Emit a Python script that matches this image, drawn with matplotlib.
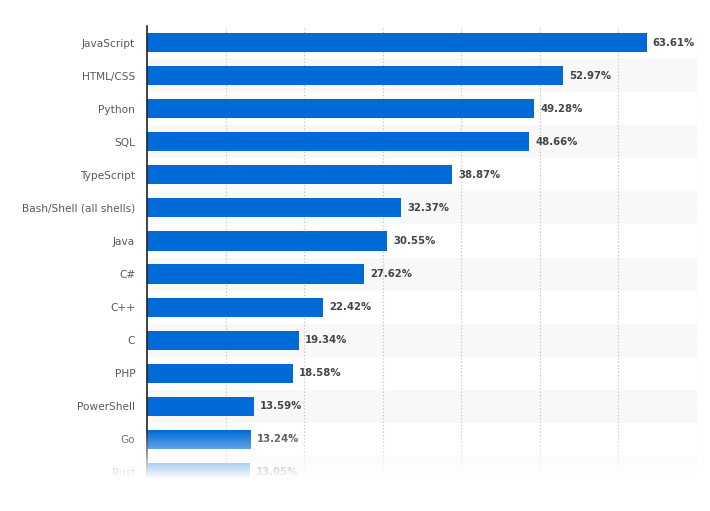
import numpy as np
import matplotlib.pyplot as plt

# --- data (most used programming languages, share of respondents) ---
languages = ["JavaScript", "HTML/CSS", "Python", "SQL", "TypeScript",
             "Bash/Shell (all shells)", "Java", "C#", "C++", "C", "PHP",
             "PowerShell", "Go", "Rust"]
shares = [63.61, 52.97, 49.28, 48.66, 38.87, 32.37, 30.55, 27.62, 22.42,
          19.34, 18.58, 13.59, 13.24, 13.05]

BAR_COLOR = "#006bd6"
W, H = 710, 511

fig = plt.figure(figsize=(W / 100, H / 100), dpi=100)
ax = fig.add_axes([147 / W, 1 - 489 / H, (697 - 147) / W, (489 - 26) / H])

n = len(languages)
y = np.arange(n)

# alternating row stripes
for i in y:
    if i % 2 == 1:
        ax.axhspan(i - 0.5, i + 0.5, color="#f8f8f8", zorder=0, lw=0)

ax.barh(y, shares, height=0.58, color=BAR_COLOR, zorder=3)

for yi, v in zip(y, shares):
    ax.text(v + 0.75, yi, f"{v:.2f}%", va="center", ha="left",
            fontsize=7.3, fontweight="bold", color="#444444", zorder=4)

ax.set_xlim(0, 70)
ax.set_ylim(n - 0.5, -0.5)
ax.set_yticks(y)
ax.set_yticklabels(languages, fontsize=7.6, color="#595959")
ax.set_xticks(np.arange(10, 71, 10))
ax.tick_params(axis="x", length=0, labelbottom=False)
ax.tick_params(axis="y", length=0, pad=8.5)
ax.xaxis.grid(True, color="#bbbbbb", linestyle=(0, (1, 2)), linewidth=0.8)
ax.set_axisbelow(True)
for side in ["top", "right", "bottom"]:
    ax.spines[side].set_visible(False)
ax.spines["left"].set_color("#222222")
ax.spines["left"].set_linewidth(1.2)
ax.spines["left"].set_zorder(5)

# white fade at the bottom of the chart
fade_top, fade_end = 430, 478
ov = fig.add_axes([0, 0, 1, (H - fade_top) / H], zorder=10)
rows = H - fade_top
alpha = np.clip(np.arange(rows) / (fade_end - fade_top), 0, 1)
grad = np.ones((rows, 2, 4))
grad[:, :, 3] = alpha[:, None]
ov.imshow(grad, aspect="auto", extent=[0, 1, 0, 1], origin="upper")
ov.axis("off")

fig.savefig("out.png", dpi=100)
